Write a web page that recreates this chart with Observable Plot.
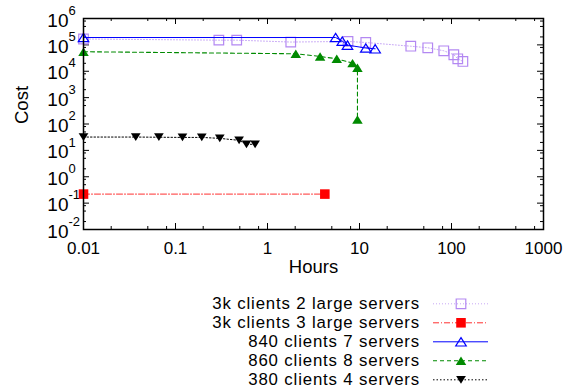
<!DOCTYPE html>
<html><head><meta charset="utf-8">
<script src="https://cdn.jsdelivr.net/npm/d3@7"></script>
<script src="https://cdn.jsdelivr.net/npm/@observablehq/plot@0.6"></script>
<style>
body{margin:0;background:#fff;font-family:"Liberation Sans",Arial,sans-serif}
#chart svg,#legend svg{display:block}
</style>
</head><body><div id="chart"></div><div id="legend"></div>
<script>
// ---- data ----
const seriesNames = ["3k clients 2 large servers","3k clients 3 large servers","840 clients 7 servers","860 clients 8 servers","380 clients 4 servers"];
const hoursA = [0.01, 0.296, 0.463, 1.79, 7.5, 11.7, 36.1, 55.2, 82.4, 106, 117, 133];
const costA  = [167000, 151000, 151000, 128000, 135000, 123000, 89000, 77600, 59800, 42200, 29700, 23500];
const hoursB = [0.01, 4.2];
const costB  = [0.22, 0.22];
const hoursC = [0.01, 5.5, 6.5, 7.4, 11.7, 14.8];
const costC  = [190000, 190000, 138000, 98000, 76000, 71000];
const hoursD = [0.01, 2.03, 3.73, 5.66, 8.4, 9.5, 9.5];
const costD  = [55000, 46000, 36400, 29700, 20300, 13600, 149];
const hoursE = [0.01, 0.037, 0.066, 0.119, 0.193, 0.303, 0.491, 0.591, 0.733];
const costE  = [32, 32, 31.5, 31, 31, 28.5, 24, 17, 17];
const xTickValues = [0.01, 0.1, 1, 10, 100, 1000];
const xTickLabels = ["0.01", "0.1", "1", "10", "100", "1000"];
const yTickValues = [1e-2, 1e-1, 1, 1e1, 1e2, 1e3, 1e4, 1e5, 1e6];
const yTickExponents = ["-2", "-1", "0", "1", "2", "3", "4", "5", "6"];
const xLabel = "Hours";
const yLabel = "Cost";

// ---- styles ----
const triUp = {draw(ctx, size){const s=Math.sqrt(size/(Math.sqrt(3)/4)), h=s*0.8; ctx.moveTo(0,-h/2); ctx.lineTo(s/2,h/2); ctx.lineTo(-s/2,h/2); ctx.closePath();}};
const triDown = {draw(ctx, size){const s=Math.sqrt(size/(Math.sqrt(3)/4)), h=s*0.8; ctx.moveTo(0,h/2); ctx.lineTo(s/2,-h/2); ctx.lineTo(-s/2,-h/2); ctx.closePath();}};
const styles = [
  {color:"#b388f2", dash:"1,2", lineWidth:1, symbol:"square", r:5.4, fill:"none", strokeW:1.2, lineColor:"#c8a8f6"},
  {color:"#ff0000", dash:"6,2,1,2", lineWidth:1, symbol:"square", r:5.4, fill:"#ff0000", strokeW:0, lineColor:"#ff3030"},
  {color:"#0000ff", dash:null, lineWidth:1, symbol:triUp, r:3.9, fill:"none", strokeW:1.2, lineColor:"#0000ff"},
  {color:"#008a00", dash:"4,3", lineWidth:1.1, symbol:triUp, r:3.9, fill:"#008a00", strokeW:0, lineColor:"#008a00"},
  {color:"#000000", dash:"1.5,2", lineWidth:1, symbol:triDown, r:3.6, fill:"#000000", strokeW:0, lineColor:"#000000"}
];
const hours = [hoursA, hoursB, hoursC, hoursD, hoursE];
const costs = [costA, costB, costC, costD, costE];

const W=568, H=280, mL=83, mR=25, mT=18, mB=51;
const innerH = H-mT-mB, innerW = W-mL-mR;
const majorLen = 6, minorLen = 3;
const minorOf = (majors) => majors.slice(0,-1).flatMap(d => [2,5,8].map(k => d*k));
const xMinor = minorOf(xTickValues), yMinor = minorOf(yTickValues);

const marks = [
  Plot.tickX(xTickValues, {x:d=>d, insetTop: innerH-majorLen, stroke:"black", strokeWidth:1}),
  Plot.tickX(xTickValues, {x:d=>d, insetBottom: innerH-majorLen, stroke:"black", strokeWidth:1}),
  Plot.tickX(xMinor, {x:d=>d, insetTop: innerH-minorLen, stroke:"black", strokeWidth:1}),
  Plot.tickX(xMinor, {x:d=>d, insetBottom: innerH-minorLen, stroke:"black", strokeWidth:1}),
  Plot.tickY(yTickValues, {y:d=>d, insetRight: innerW-majorLen, stroke:"black", strokeWidth:1}),
  Plot.tickY(yTickValues, {y:d=>d, insetLeft: innerW-majorLen, stroke:"black", strokeWidth:1}),
  Plot.tickY(yMinor, {y:d=>d, insetRight: innerW-minorLen, stroke:"black", strokeWidth:1}),
  Plot.tickY(yMinor, {y:d=>d, insetLeft: innerW-minorLen, stroke:"black", strokeWidth:1}),
  Plot.text(xTickValues, {x:d=>d, text:(d,i)=>xTickLabels[i], frameAnchor:"bottom", dy:19, lineAnchor:"middle", fontSize:17, fill:"black"}),
  Plot.text(yTickValues, {y:d=>d, text:()=>"10", frameAnchor:"left", dx:-15, dy:2, textAnchor:"end", lineAnchor:"middle", fontSize:19, fill:"black"}),
  Plot.text(yTickValues, {y:d=>d, text:(d,i)=>yTickExponents[i], frameAnchor:"left", dx:-15, dy:-8, textAnchor:"start", lineAnchor:"middle", fontSize:13, fill:"black"}),
  Plot.text([xLabel], {text:d=>d, frameAnchor:"bottom", dy:38, lineAnchor:"middle", fontSize:18.5, fill:"black"}),
  Plot.text([yLabel], {text:d=>d, frameAnchor:"left", dx:-61, rotate:-90, lineAnchor:"middle", fontSize:18.5, fill:"black"})
];
styles.forEach((s,k) => {
  const pts = hours[k].map((h,i) => ({h, c: costs[k][i]}));
  marks.push(Plot.line(pts, {x:"h", y:"c", stroke:s.lineColor, strokeWidth:s.lineWidth, strokeDasharray:s.dash}));
  marks.push(Plot.dot(pts, {x:"h", y:"c", symbol:()=>s.symbol, r:s.r, fill:s.fill, stroke: s.strokeW ? s.color : "none", strokeWidth:s.strokeW}));
});
marks.push(Plot.frame({stroke:"black", strokeWidth:1.5}));

const chart = Plot.plot({
  width:W, height:H, marginLeft:mL, marginRight:mR, marginTop:mT, marginBottom:mB,
  x:{type:"log", domain:[0.01,1000], axis:null},
  y:{type:"log", domain:[0.01,1e6], axis:null},
  symbol:{type:"identity"},
  style:{fontFamily:'"Liberation Sans",Arial,sans-serif', fontSize:"17px", color:"black", background:"white", overflow:"visible"},
  marks
});
document.getElementById("chart").appendChild(chart);

// ---- legend ----
const LH = 389-H;
const svg = d3.select("#legend").append("svg").attr("width", W).attr("height", LH)
  .style("font-family",'"Liberation Sans",Arial,sans-serif');
seriesNames.forEach((name,i) => {
  const s = styles[i], y = 23.8 + 19*i;
  svg.append("text").attr("x",420).attr("y",y).attr("text-anchor","end").attr("dominant-baseline","central")
    .attr("font-size",16.8).attr("letter-spacing","0.85px").attr("fill","black").text(name);
  svg.append("line").attr("x1",433).attr("x2",488).attr("y1",y).attr("y2",y)
    .attr("stroke",s.lineColor).attr("stroke-width",s.lineWidth).attr("stroke-dasharray",s.dash);
  const sym = typeof s.symbol === "string" ? d3.symbolSquare : s.symbol;
  svg.append("path").attr("transform",`translate(461,${y})`)
    .attr("d", d3.symbol(sym, Math.PI*s.r*s.r)())
    .attr("fill", s.fill).attr("stroke", s.strokeW ? s.color : "none").attr("stroke-width", s.strokeW);
});
</script></body></html>
